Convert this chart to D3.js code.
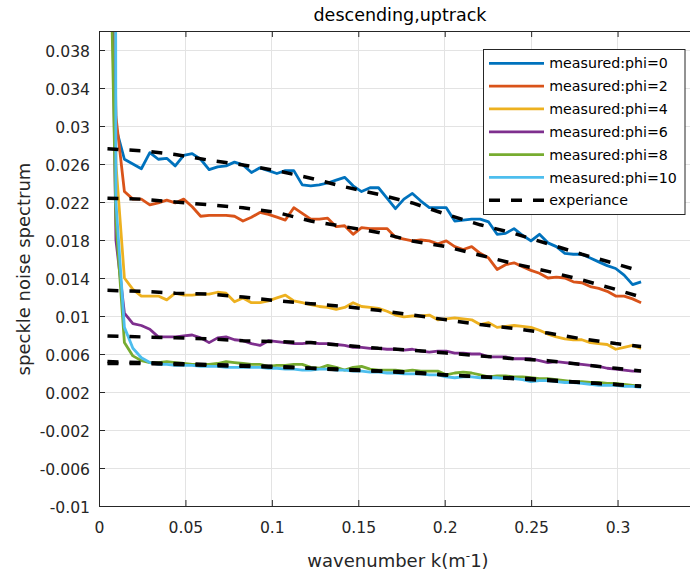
<!DOCTYPE html>
<html>
<head>
<meta charset="utf-8">
<script src="https://cdn.jsdelivr.net/npm/d3@7/dist/d3.min.js"></script>
<style>
  html, body { margin: 0; padding: 0; background: #ffffff; }
  svg { display: block; font-family: "DejaVu Sans", "Liberation Sans", sans-serif; }
</style>
</head>
<body>
<script>
// wavenumber grid shared by all measured spectra (m^-1)
const waveK = [
  0.0049, 0.0098, 0.0147, 0.0196, 0.0245, 0.0294, 0.0343, 0.0392, 0.0441, 0.0490,
  0.0539, 0.0588, 0.0637, 0.0686, 0.0735, 0.0784, 0.0833, 0.0882, 0.0931, 0.0980,
  0.1029, 0.1078, 0.1127, 0.1176, 0.1225, 0.1274, 0.1323, 0.1372, 0.1421, 0.1470,
  0.1519, 0.1568, 0.1617, 0.1666, 0.1715, 0.1764, 0.1813, 0.1862, 0.1911, 0.1960,
  0.2009, 0.2058, 0.2107, 0.2156, 0.2205, 0.2254, 0.2303, 0.2352, 0.2401, 0.2450,
  0.2499, 0.2548, 0.2597, 0.2646, 0.2695, 0.2744, 0.2793, 0.2842, 0.2891, 0.2940,
  0.2989, 0.3038, 0.3087, 0.3136
];

// measured speckle noise spectra, one array per phi
const phi0 = [
  0.0900, 0.0298, 0.0265, 0.0260, 0.0255, 0.0272, 0.0265, 0.0266, 0.0258, 0.0269,
  0.0271, 0.0265, 0.0254, 0.0257, 0.0258, 0.0262, 0.0259, 0.0251, 0.0256, 0.0253,
  0.0250, 0.0253, 0.0253, 0.0238, 0.0237, 0.0238, 0.0240, 0.0243, 0.0246, 0.0237,
  0.0231, 0.0235, 0.0235, 0.0224, 0.0213, 0.0223, 0.0229, 0.0221, 0.0214, 0.0214,
  0.0214, 0.0200, 0.0201, 0.0202, 0.0202, 0.0199, 0.0186, 0.0187, 0.0192, 0.0185,
  0.0179, 0.0186, 0.0177, 0.0173, 0.0166, 0.0165, 0.0165, 0.0161, 0.0157, 0.0153,
  0.0150, 0.0143, 0.0133, 0.0136
];
const phi2 = [
  0.0900, 0.0310, 0.0231, 0.0223, 0.0223, 0.0217, 0.0219, 0.0222, 0.0219, 0.0223,
  0.0215, 0.0205, 0.0206, 0.0206, 0.0206, 0.0205, 0.0200, 0.0204, 0.0209, 0.0207,
  0.0204, 0.0201, 0.0214, 0.0208, 0.0202, 0.0202, 0.0203, 0.0194, 0.0195, 0.0186,
  0.0193, 0.0192, 0.0192, 0.0192, 0.0183, 0.0181, 0.0179, 0.0180, 0.0179, 0.0176,
  0.0179, 0.0173, 0.0170, 0.0173, 0.0166, 0.0161, 0.0149, 0.0154, 0.0156, 0.0152,
  0.0148, 0.0145, 0.0140, 0.0141, 0.0140, 0.0136, 0.0135, 0.0131, 0.0129, 0.0126,
  0.0121, 0.0121, 0.0118, 0.0114
];
const phi4 = [
  0.0900, 0.0260, 0.0140, 0.0128, 0.0121, 0.0121, 0.0121, 0.0117, 0.0124, 0.0122,
  0.0122, 0.0123, 0.0123, 0.0125, 0.0124, 0.0115, 0.0119, 0.0114, 0.0114, 0.0116,
  0.0119, 0.0122, 0.0116, 0.0114, 0.0112, 0.0110, 0.0109, 0.0107, 0.0109, 0.0114,
  0.0110, 0.0109, 0.0108, 0.0105, 0.0101, 0.0099, 0.0100, 0.0100, 0.0101, 0.0096,
  0.0097, 0.0098, 0.0097, 0.0096, 0.0091, 0.0093, 0.0088, 0.0089, 0.0090, 0.0089,
  0.0088, 0.0085, 0.0081, 0.0078, 0.0076, 0.0075, 0.0075, 0.0072, 0.0071, 0.0070,
  0.0065, 0.0067, 0.0069, 0.0066
];
const phi6 = [
  0.0800, 0.0180, 0.0103, 0.0092, 0.0090, 0.0086, 0.0078, 0.0078, 0.0078, 0.0079,
  0.0080, 0.0077, 0.0072, 0.0077, 0.0078, 0.0075, 0.0074, 0.0071, 0.0069, 0.0074,
  0.0073, 0.0072, 0.0071, 0.0071, 0.0072, 0.0071, 0.0071, 0.0070, 0.0069, 0.0067,
  0.0067, 0.0066, 0.0066, 0.0065, 0.0065, 0.0064, 0.0065, 0.0063, 0.0062, 0.0063,
  0.0063, 0.0061, 0.0061, 0.0060, 0.0060, 0.0057, 0.0057, 0.0057, 0.0055, 0.0055,
  0.0055, 0.0053, 0.0051, 0.0052, 0.0051, 0.0050, 0.0049, 0.0048, 0.0047, 0.0045,
  0.0044, 0.0043, 0.0042, 0.0042
];
const phi8 = [
  0.0650, 0.0200, 0.0072, 0.0058, 0.0053, 0.0051, 0.0051, 0.0052, 0.0051, 0.0050,
  0.0049, 0.0049, 0.0049, 0.0050, 0.0052, 0.0051, 0.0050, 0.0049, 0.0049, 0.0047,
  0.0048, 0.0048, 0.0049, 0.0049, 0.0046, 0.0045, 0.0048, 0.0046, 0.0043, 0.0046,
  0.0047, 0.0044, 0.0043, 0.0043, 0.0043, 0.0042, 0.0043, 0.0042, 0.0042, 0.0042,
  0.0038, 0.0040, 0.0041, 0.0040, 0.0038, 0.0036, 0.0037, 0.0037, 0.0036, 0.0036,
  0.0035, 0.0034, 0.0034, 0.0033, 0.0032, 0.0031, 0.0031, 0.0030, 0.0030, 0.0029,
  0.0029, 0.0028, 0.0027, 0.0026
];
const phi10 = [
  0.6000, 0.0220, 0.0088, 0.0066, 0.0056, 0.0051, 0.0049, 0.0049, 0.0048, 0.0048,
  0.0048, 0.0047, 0.0047, 0.0047, 0.0046, 0.0046, 0.0046, 0.0046, 0.0046, 0.0045,
  0.0045, 0.0044, 0.0044, 0.0043, 0.0043, 0.0044, 0.0044, 0.0043, 0.0043, 0.0042,
  0.0042, 0.0041, 0.0041, 0.0040, 0.0040, 0.0039, 0.0039, 0.0039, 0.0038, 0.0038,
  0.0036, 0.0035, 0.0036, 0.0036, 0.0035, 0.0035, 0.0035, 0.0034, 0.0034, 0.0033,
  0.0031, 0.0032, 0.0032, 0.0031, 0.0030, 0.0030, 0.0029, 0.0028, 0.0027, 0.0027,
  0.0027, 0.0026, 0.0026, 0.0025
];

// empirical model curves, evaluated on a coarser wavenumber grid
const expK = [
  0.0049, 0.0245, 0.0441, 0.0637, 0.0833, 0.1029, 0.1225, 0.1421, 0.1617,
  0.1813, 0.2009, 0.2205, 0.2401, 0.2597, 0.2793, 0.2989, 0.3136
];
const exp0 = [0.0276, 0.0274, 0.0270, 0.0264, 0.0259, 0.0253, 0.0245, 0.0236, 0.0228,
              0.0219, 0.0207, 0.0196, 0.0187, 0.0176, 0.0165, 0.0155, 0.0147];
const exp2 = [0.0224, 0.0223, 0.0220, 0.0217, 0.0214, 0.0209, 0.0200, 0.0194, 0.0188,
              0.0179, 0.0173, 0.0164, 0.0155, 0.0147, 0.0138, 0.0128, 0.0120];
const exp4 = [0.0127, 0.0126, 0.0124, 0.0123, 0.0120, 0.0116, 0.0113, 0.0110, 0.0106,
              0.0101, 0.0096, 0.0091, 0.0087, 0.0082, 0.0076, 0.0071, 0.0068];
const exp6 = [0.0079, 0.0078, 0.0077, 0.0076, 0.0074, 0.0073, 0.0072, 0.0069, 0.0066,
              0.0064, 0.0061, 0.0058, 0.0055, 0.0053, 0.0049, 0.0045, 0.0042];
const exp8 = [0.0052, 0.0051, 0.0050, 0.0049, 0.0048, 0.0047, 0.0045, 0.0044, 0.0042,
              0.0041, 0.0038, 0.0036, 0.0035, 0.0033, 0.0030, 0.0028, 0.0026];
const exp10 = [0.0050, 0.0050, 0.0049, 0.0048, 0.0047, 0.0046, 0.0045, 0.0043, 0.0042,
               0.0040, 0.0038, 0.0036, 0.0034, 0.0032, 0.0030, 0.0028, 0.0026];

const seriesNames = ["measured:phi=0", "measured:phi=2", "measured:phi=4",
                     "measured:phi=6", "measured:phi=8", "measured:phi=10"];
const seriesColors = ["#0072BD", "#D95319", "#EDB120", "#7E2F8E", "#77AC30", "#4DBEEE"];
const modelName = "experiance";

const xTickValues = [0, 0.05, 0.1, 0.15, 0.2, 0.25, 0.3];
const xTickLabels = ["0", "0.05", "0.1", "0.15", "0.2", "0.25", "0.3"];
const yTickValues = [-0.01, -0.006, -0.002, 0.002, 0.006, 0.01, 0.014, 0.018,
                     0.022, 0.026, 0.03, 0.034, 0.038];
const yTickLabels = ["-0.01", "-0.006", "-0.002", "0.002", "0.006", "0.01", "0.014",
                     "0.018", "0.022", "0.026", "0.03", "0.034", "0.038"];

const W = 690, H = 575;
const plot = { left: 99, right: 704, top: 31, bottom: 506 };
const axisColor = "#262626";
const tickFont = 15.6;

const svg = d3.select("body").append("svg")
  .attr("width", W).attr("height", H)
  .attr("viewBox", `0 0 ${W} ${H}`);

svg.append("rect").attr("width", W).attr("height", H).attr("fill", "#ffffff");

const x = d3.scaleLinear().domain([0, 0.35]).range([plot.left, plot.right]);
const y = d3.scaleLinear().domain([-0.01, 0.04]).range([plot.bottom, plot.top]);

// grid
const grid = svg.append("g").attr("stroke", "#e3e3e3").attr("stroke-width", 1)
  .attr("shape-rendering", "crispEdges");
grid.selectAll("line.gx").data(xTickValues).join("line")
  .attr("x1", d => x(d)).attr("x2", d => x(d))
  .attr("y1", plot.top).attr("y2", plot.bottom);
grid.selectAll("line.gy").data(yTickValues).join("line")
  .attr("x1", plot.left).attr("x2", plot.right)
  .attr("y1", d => y(d)).attr("y2", d => y(d));

// clip region for the data
svg.append("clipPath").attr("id", "plot-area").append("rect")
  .attr("x", plot.left).attr("y", plot.top)
  .attr("width", plot.right - plot.left).attr("height", plot.bottom - plot.top);

const line = d3.line().x(d => x(d[0])).y(d => y(d[1]));
const dataG = svg.append("g").attr("clip-path", "url(#plot-area)");

const measured = [phi0, phi2, phi4, phi6, phi8, phi10];
measured.forEach((vals, i) => {
  dataG.append("path")
    .attr("d", line(d3.zip(waveK, vals)))
    .attr("fill", "none")
    .attr("stroke", seriesColors[i])
    .attr("stroke-width", 2.8)
    .attr("stroke-linejoin", "round");
});

const models = [exp0, exp2, exp4, exp6, exp8, exp10];
models.forEach(vals => {
  dataG.append("path")
    .attr("d", line(d3.zip(expK, vals)))
    .attr("fill", "none")
    .attr("stroke", "#000000")
    .attr("stroke-width", 3.5)
    .attr("stroke-dasharray", "11,11");
});

// axes (ticks point inward, box on)
function styleAxis(g) {
  g.select(".domain").attr("stroke", axisColor).attr("stroke-width", 1);
  g.selectAll(".tick line").attr("stroke", axisColor).attr("stroke-width", 1);
  g.selectAll("text").attr("fill", axisColor)
    .attr("font-family", "DejaVu Sans, sans-serif").attr("font-size", tickFont);
}

const xAxisB = svg.append("g").attr("transform", `translate(0,${plot.bottom})`)
  .call(d3.axisBottom(x).tickValues(xTickValues)
    .tickFormat((d, i) => xTickLabels[i]).tickSizeInner(-6).tickSizeOuter(0));
styleAxis(xAxisB);
xAxisB.selectAll("text").attr("y", 27.3).attr("dy", 0);

const xAxisT = svg.append("g").attr("transform", `translate(0,${plot.top})`)
  .call(d3.axisTop(x).tickValues(xTickValues).tickFormat("").tickSizeInner(-6).tickSizeOuter(0));
styleAxis(xAxisT);

const yAxisL = svg.append("g").attr("transform", `translate(${plot.left},0)`)
  .call(d3.axisLeft(y).tickValues(yTickValues)
    .tickFormat((d, i) => yTickLabels[i]).tickSizeInner(-6).tickSizeOuter(0).tickPadding(9));
styleAxis(yAxisL);
yAxisL.selectAll("text").attr("dy", "0.4em");

const yAxisR = svg.append("g").attr("transform", `translate(${plot.right},0)`)
  .call(d3.axisRight(y).tickValues(yTickValues).tickFormat("").tickSizeInner(-6).tickSizeOuter(0));
styleAxis(yAxisR);

// title and axis labels
svg.append("text")
  .attr("x", 400).attr("y", 20.7)
  .attr("text-anchor", "middle").attr("font-size", 17.5).attr("fill", "#000000")
  .text("descending,uptrack");

const xl = svg.append("text")
  .attr("x", 398).attr("y", 566.5)
  .attr("text-anchor", "middle").attr("font-size", 18).attr("fill", axisColor);
xl.append("tspan").text("wavenumber k(m");
xl.append("tspan").attr("dy", -7).attr("font-size", 12).text("-");
xl.append("tspan").attr("dy", 7).text("1)");

svg.append("text")
  .attr("transform", "translate(29.5,269) rotate(-90)")
  .attr("text-anchor", "middle").attr("font-size", 18).attr("fill", axisColor)
  .text("speckle noise spectrum");

// legend
const legend = svg.append("g");
legend.append("rect")
  .attr("x", 483.5).attr("y", 49.5).attr("width", 201.5).attr("height", 165)
  .attr("fill", "#ffffff").attr("stroke", axisColor).attr("stroke-width", 1);

const legendRows = seriesNames.map((name, i) => ({ name, color: seriesColors[i], dashed: false }))
  .concat([{ name: modelName, color: "#000000", dashed: true }]);
const rowY = d3.scaleLinear().domain([0, 6]).range([63.3, 200.3]);

legendRows.forEach((r, i) => {
  const yy = rowY(i);
  legend.append("line")
    .attr("x1", 489).attr("x2", 544).attr("y1", yy).attr("y2", yy)
    .attr("stroke", r.color).attr("stroke-width", r.dashed ? 3.5 : 2.8)
    .attr("stroke-dasharray", r.dashed ? "11,11" : null);
  legend.append("text")
    .attr("x", 549.3).attr("y", yy).attr("dy", "0.36em")
    .attr("font-size", 14.2).attr("fill", "#000000")
    .text(r.name);
});
</script>
</body>
</html>
